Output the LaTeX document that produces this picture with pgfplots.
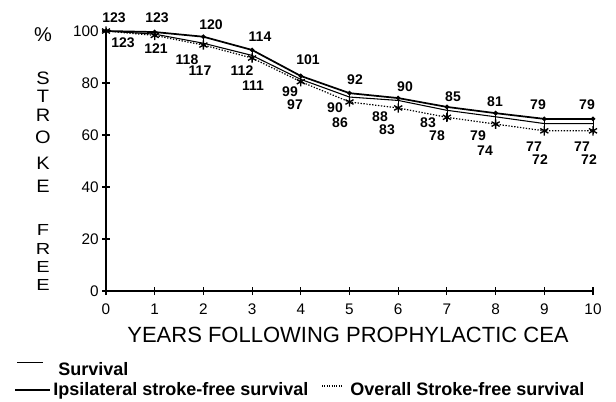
\documentclass[border=0pt]{standalone}
\usepackage{pgfplots}
\pgfplotsset{compat=1.18}
\usepackage{pgfplotstable}
\usepackage{fontspec}
\setmainfont{Liberation Sans}
\pgfplotstableread{
x surv err ipsi over
0 100 0 100 100
1 99.6 1.3 98.8 98.3
2 97.8 3.2 95.3 94.6
3 92.7 3.1 90.6 89.6
4 82.7 2.2 81.4 80.5
5 76.1 3.4 74.6 72.7
6 74.2 3.8 73.3 70.4
7 70.8 4.0 69.5 66.8
8 68.4 4.2 67.0 64.2
9 66.2 4.6 64.4 61.6
10 66.2 4.6 64.4 61.6
}\data
\begin{document}
\begin{tikzpicture}
\useasboundingbox (0,0) rectangle (462pt,-300.75pt);
\begin{axis}[
  at={(79.5pt,-218.25pt)}, anchor=south west,
  scale only axis, width=365.25pt, height=195pt,
  xmin=0, xmax=10, ymin=0, ymax=100,
  axis lines=left, axis line style={-, line width=1pt},
  xtick={0,1,...,10}, ytick={0,20,40,60,80,100},
  tick align=center, major tick length=6pt,
  tick style={black, line width=0.8pt},
  /pgf/number format/assume math mode=true,
  ticklabel style={font=\fontsize{11.5}{13}\selectfont},
  xticklabel style={yshift=-3pt},
  yticklabel style={xshift=1pt},
  clip=false,
]
\addplot[black, line width=1.3pt, mark=*, mark size=1pt,
  error bars/.cd, y dir=minus, y explicit,
  error bar style={line width=0.6pt}, error mark=-,
  error mark options={mark size=2.5pt, line width=0.6pt}]
  table[x=x, y=surv, y error minus=err]{\data};
\addplot[black, line width=0.8pt, no marks] table[x=x, y=ipsi]{\data};
\addplot[black, line width=0.9pt, dash pattern=on 1pt off 1.2pt, mark=asterisk, mark size=3.5pt,
  mark options={solid, line width=1pt}] table[x=x, y=over]{\data};
\end{axis}
\begin{scope}[x=0.75pt, y=-0.75pt]
  % y label letters
  \begin{scope}[every node/.style={font=\fontsize{15}{16}\selectfont, inner sep=0pt}]
    \node at (43,35) {\%};
    \node at (43,78) {\scalebox{1}[0.9]{S}};
    \node at (43,96) {\scalebox{1}[0.9]{T}};
    \node at (43,115) {\scalebox{1}[0.9]{R}};
    \node at (43,137) {\scalebox{1}[0.9]{O}};
    \node at (43,163) {\scalebox{1}[0.9]{K}};
    \node at (43,186) {\scalebox{1}[0.9]{E}};
    \node at (43,230) {\scalebox{1}[0.8]{F}};
    \node at (43,249) {\scalebox{1}[0.8]{R}};
    \node at (43,267) {\scalebox{1}[0.8]{E}};
    \node at (43,285) {\scalebox{1}[0.8]{E}};
  \end{scope}
  % x label
  \node[anchor=base, inner sep=0pt, font=\fontsize{16.5}{18}\selectfont] at (348,342) {YEARS FOLLOWING PROPHYLACTIC CEA};
  % data labels
  \begin{scope}[every node/.style={font=\bfseries\fontsize{10.5}{12}\selectfont, inner sep=0pt}]
    \node at (114,18) {123};
    \node at (157,18) {123};
    \node at (211,25) {120};
    \node at (260,37) {114};
    \node at (308,60) {101};
    \node at (355,80) {92};
    \node at (405,87) {90};
    \node at (453,97) {85};
    \node at (495,102) {81};
    \node at (538,105) {79};
    \node at (587,105) {79};
    \node at (123,43) {123};
    \node at (156,49) {121};
    \node at (187,60) {118};
    \node at (200,71) {117};
    \node at (242,71) {112};
    \node at (253,86) {111};
    \node at (290,92) {99};
    \node at (295,105) {97};
    \node at (335,108) {90};
    \node at (340,123) {86};
    \node at (380,117) {88};
    \node at (387,130) {83};
    \node at (428,123) {83};
    \node at (437,136) {78};
    \node at (478,136) {79};
    \node at (485,151) {74};
    \node at (534,147) {77};
    \node at (540,160) {72};
    \node at (582,147) {77};
    \node at (589,160) {72};
  \end{scope}
  % legend
  \draw[line width=0.6pt] (17,362) -- (43,362);
  \draw[line width=0.8pt] (15,390) -- (50,390);
  \draw[line width=0.8pt, densely dotted] (322,386) -- (343,386);
  \begin{scope}[every node/.style={font=\bfseries\fontsize{13.5}{15}\selectfont, inner sep=0pt, anchor=base west}]
    \node at (58,375) {Survival};
    \node at (53,395) {Ipsilateral stroke-free survival};
    \node at (350,395) {Overall Stroke-free survival};
  \end{scope}
\end{scope}
\end{tikzpicture}
\end{document}
